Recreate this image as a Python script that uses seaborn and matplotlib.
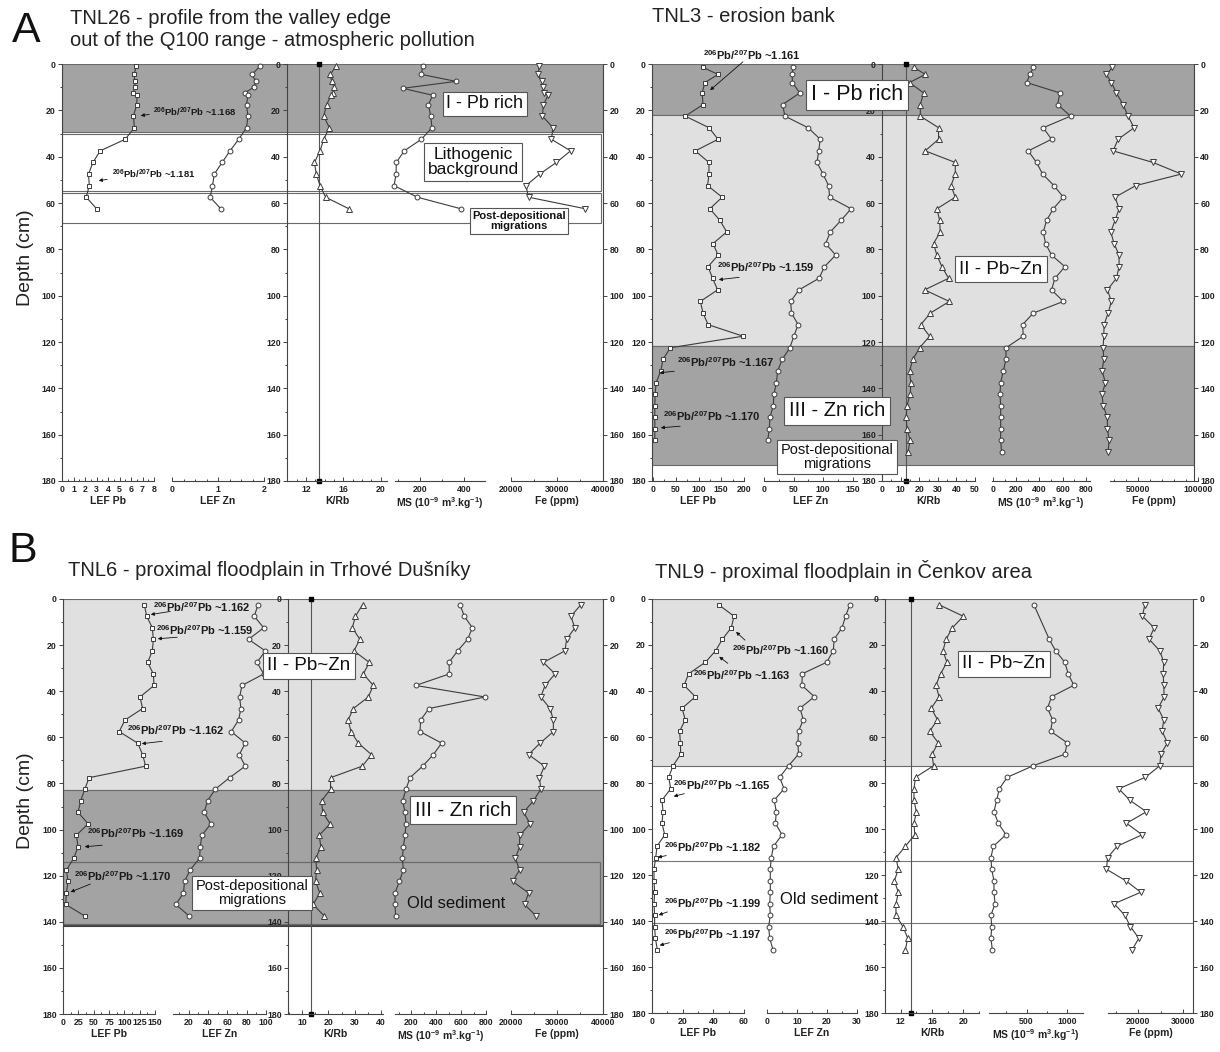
import matplotlib
matplotlib.use("Agg")
import matplotlib.pyplot as plt
from matplotlib.ticker import MultipleLocator
from matplotlib.patches import FancyArrowPatch
import seaborn as sns

# ---------------------------------------------------------------- data
# TNL26 - valley edge profile
depth_26 = [1, 4.5, 7.5, 10, 12.5, 13.5, 17.5, 22.5, 27.5, 32.5, 37.5, 42.5, 47.5, 52.5, 57.5, 62.5]
depth_26_ms = [1, 4.5, 7.5, 10.5, 13.5, 17.5, 22.5, 27.5, 32.5, 37.5, 42.5, 47.5, 52.5, 57.5, 62.5]
lef_pb_26 = [6.45, 6.27, 6.33, 6.36, 6.18, 6.53, 6.50, 6.21, 6.30, 5.49, 3.32, 2.69, 2.31, 2.37, 2.11, 3.01]
lef_zn_26 = [1.91, 1.74, 1.82, 1.78, 1.58, 1.65, 1.62, 1.65, 1.62, 1.45, 1.26, 1.09, 0.92, 0.88, 0.83, 1.06]
krb_26 = [15.2, 14.6, 14.75, 15.0, 14.9, 14.7, 14.2, 13.9, 14.5, 13.9, 13.5, 12.9, 13.1, 13.5, 14.1, 16.6]
ms_26 = [212, 206, 362, 122, 257, 238, 248, 254, 206, 129, 93, 92, 83, 188, 385]
fe_26 = [26115, 25900, 26690, 26980, 27190, 28060, 27050, 26830, 29140, 28780, 32950, 29860,
         26260, 23240, 23810, 36190]

# TNL3 - erosion bank
depth_3 = [1.5, 4.5, 8, 12.5, 17.5, 22.5, 27.5, 32.5, 37.5, 42.5, 47.5, 52.5, 57.5, 62.5, 67.5,
           72.5, 77.5, 82.5, 87.5, 92.5, 97.5, 102.5, 107.5, 112.5, 117.5, 122.5, 127.5, 132.5,
           137.5, 142.5, 147.5, 152.5, 157.5, 162.5]
depth_3_long = depth_3 + [167.5]
lef_pb_3 = [110, 143, 114, 108, 110, 71, 123, 143, 93, 123, 123, 120, 152, 125, 147, 162, 132, 143,
            121, 131, 142, 104, 110, 121, 198, 38, 22, 17, 7, 4.5, 4, 4, 4, 4]
lef_zn_3 = [49, 47.6, 48, 60.4, 31.3, 35.3, 74.4, 95, 92.3, 89.5, 99.6, 109, 110.8, 147, 130, 112,
            104, 121, 102, 93, 59, 45, 46.4, 57.6, 50.4, 43.6, 30.8, 23, 21, 16.8, 15.7, 10, 9, 6.2]
krb_3 = [17.3, 23.2, 14.8, 22.4, 20.6, 20.6, 30.4, 30.4, 23.2, 39.4, 39.4, 37.1, 39.4, 29.5, 31,
         31.3, 27.7, 29.5, 32.2, 35.8, 22.9, 36.2, 26, 20.9, 25.6, 20.2, 16.6, 14.8, 15.5, 15.2,
         13.4, 13, 13.4, 15.2, 13.9]
ms_3 = [347, 318, 289, 578, 557, 670, 433, 505, 303, 375, 427, 526, 607, 520, 462, 433, 453, 505,
        621, 534, 505, 607, 347, 254, 260, 110, 110, 87, 64, 58, 64, 64, 64, 64, 72]
fe_3 = [28610, 23610, 27780, 31940, 37500, 41670, 46670, 33330, 29170, 62500, 86110, 48060, 30830,
        34170, 30830, 27220, 30000, 34170, 34170, 31940, 24440, 27780, 25000, 21670, 21390, 20830,
        21390, 20000, 22780, 20000, 20830, 24440, 24440, 25830, 25000]

# TNL6 - Trhove Dusniky
depth_6 = [2.5, 7.5, 12.5, 17.5, 22.5, 27.5, 32.5, 37.5, 42.5, 47.5, 52.5, 57.5, 62.5, 67.5, 72.5,
           77.5, 82.5, 87.5, 92.5, 97.5, 102.5, 107.5, 112.5, 117.5, 122.5, 127.5, 132.5, 137.5]
lef_pb_6 = [132.6, 136.4, 145.7, 147.3, 145.7, 138, 147.3, 148.4, 125.5, 129.8, 101, 91.6, 121.7,
            129.8, 134.8, 42.6, 35.5, 28.9, 24.5, 40.9, 21.8, 24.5, 17.5, 5.5, 8.2, 5.5, 4.4, 35.5]
lef_zn_6 = [91.7, 87.9, 97.6, 82, 99.3, 90.7, 97.6, 75.2, 72.8, 74.1, 71.7, 64.1, 78.6, 72.4, 78.6,
            62.4, 47.6, 39.7, 36.2, 43.1, 33.8, 32.1, 31.4, 21.7, 15.9, 14.8, 6.9, 20.7]
krb_6 = [33.0, 30.3, 29.1, 32.0, 29.7, 35.6, 33.3, 37.1, 35.2, 29.5, 27.5, 28.6, 31.4, 36.4, 32.9,
         20.8, 20.8, 17.4, 17.8, 20.6, 16.5, 17.1, 15.2, 15.5, 15.1, 16.7, 14.2, 18.4]
ms_6 = [592, 627, 691, 653, 573, 504, 507, 237, 792, 344, 277, 272, 445, 379, 293, 192, 160, 133,
        152, 160, 152, 139, 131, 139, 107, 72, 72, 77]
fe_6 = [35180, 33020, 33880, 32090, 31730, 27050, 29570, 27410, 26470, 28490, 29210, 29210, 26330,
        23810, 27270, 26190, 26470, 24890, 22730, 24170, 21870, 21870, 20940, 21870, 20360, 23810,
        22950, 25470]

# TNL9 - Cenkov
depth_9 = [2.5, 7.5, 12.5, 17.5, 22.5, 27.5, 32.5, 37.5, 42.5, 47.5, 52.5, 57.5, 62.5, 67.5, 72.5,
           77.5, 82.5, 87.5, 92.5, 97.5, 102.5, 107.5, 112.5, 117.5, 122.5, 127.5, 132.5, 137.5,
           142.5, 147.5, 152.5]
depth_9_ms = [2.5, 17.5, 22.5, 27.5, 32.5, 37.5, 42.5, 47.5, 52.5, 57.5, 62.5, 67.5, 72.5, 77.5,
              82.5, 87.5, 92.5, 97.5, 102.5, 107.5, 112.5, 117.5, 122.5, 127.5, 132.5, 137.5,
              142.5, 147.5, 152.5]
lef_pb_9 = [43.5, 53.5, 51.7, 45.9, 41.5, 34.8, 23.9, 20.9, 28.3, 19.6, 21.7, 18, 18.5, 18.7, 13.7,
            10.9, 12.2, 6.5, 7.2, 6.5, 8.3, 3.3, 2.4, 1.3, 1.3, 1.7, 1.3, 1.7, 1.7, 2.2, 3.5]
lef_zn_9 = [27.6, 26.2, 25, 22.4, 22.1, 19.9, 11.8, 11.6, 15.8, 11, 12.1, 10.5, 10.3, 10.5, 7.2, 4.2,
            5.7, 2.4, 3.1, 2.8, 5, 2.2, 1.4, 1.1, 1.1, 1.1, 0.9, 1.1, 0.55, 0.9, 2]
krb_9 = [16.9, 20, 18.6, 17.8, 17.4, 17.9, 17.1, 16.5, 16.9, 15.9, 16.7, 15.7, 16.8, 16, 16.2, 13.9,
         13.7, 13.7, 14, 13.7, 13.8, 12.6, 11.4, 11.7, 11.2, 11.7, 11.4, 11.4, 12.3, 12.9, 12.6]
ms_9 = [590, 779, 857, 971, 1012, 1082, 807, 758, 820, 795, 1000, 971, 582, 262, 164, 131, 98, 152,
        246, 90, 61, 70, 98, 98, 111, 61, 70, 61, 78]
fe_9 = [21480, 20960, 23560, 22440, 24810, 25700, 25560, 25700, 25780, 24440, 25700, 25330, 26520,
        25040, 24810, 21630, 15700, 18150, 21850, 17410, 20890, 15330, 13190, 12960, 17260, 20590,
        14670, 17040, 18300, 20150, 18670]

# K/Rb reference value drawn as a vertical line in each profile
krb_ref = {"TNL26": 13.4, "TNL3": 13.0, "TNL6": 13.3, "TNL9": 13.3}

# ---------------------------------------------------------------- style
W, H = 1220, 1052
sns.set_style("ticks")
plt.rcParams["font.family"] = ["Liberation Sans", "DejaVu Sans"]
plt.rcParams["mathtext.fontset"] = "custom"
plt.rcParams["mathtext.rm"] = "Liberation Sans"
plt.rcParams["mathtext.bf"] = "Liberation Sans:bold"
plt.rcParams["mathtext.default"] = "regular"

LINE = "#3c3c3c"
AXC = "#444444"
DARK = "#a3a3a3"
LIGHT = "#e0e0e0"
EDGE = "#6a6a6a"
TICK_FS = 6.3

fig = plt.figure(figsize=(W / 100, H / 100), dpi=100)
fig.patch.set_facecolor("white")


def fbox(x0, x1, y0, y1):
    return [x0 / W, 1 - y1 / H, (x1 - x0) / W, (y1 - y0) / H]


def fp(x, y):
    return (x / W, 1 - y / H)


def depth_ticks(ax):
    ax.yaxis.set_major_locator(MultipleLocator(20))
    ax.yaxis.set_minor_locator(MultipleLocator(10))
    ax.tick_params(axis="y", which="both", direction="out", width=0.7, color=AXC,
                   labelsize=TICK_FS, pad=1.5, labelcolor="#222222")
    ax.tick_params(axis="y", which="major", length=3)
    ax.tick_params(axis="y", which="minor", length=1.6)
    plt.setp(ax.get_yticklabels(), fontweight="bold")


def make_frame(x0, x1, y0, y1):
    ax = fig.add_axes(fbox(x0, x1, y0, y1))
    ax.set_xlim(0, 1)
    ax.set_ylim(180, 0)
    ax.patch.set_alpha(0)
    ax.spines["top"].set_visible(False)
    ax.spines["bottom"].set_visible(False)
    for s in ("left", "right"):
        ax.spines[s].set_color(AXC)
        ax.spines[s].set_linewidth(0.8)
    ax.set_xticks([])
    ax.tick_params(axis="y", left=True, right=True, labelleft=True, labelright=True)
    depth_ticks(ax)
    return ax


def make_sub(x0, x1, y0, y1, vals, depth, lim, major, minor, label, marker, ms,
             depth_axis=False, ref=None):
    ax = fig.add_axes(fbox(x0, x1, y0, y1))
    ax.patch.set_alpha(0)
    sns.lineplot(x=vals, y=depth, orient="y", sort=False, estimator=None, errorbar=None,
                 ax=ax, color=LINE, lw=0.8, marker=marker, markersize=ms,
                 markerfacecolor="white", markeredgecolor=LINE, markeredgewidth=0.7,
                 clip_on=False, zorder=3)
    if ref is not None:
        ax.plot([ref, ref], [0, 180], color="#555555", lw=0.8, marker="s", markersize=2.6,
                markerfacecolor="black", markeredgecolor="black", clip_on=False, zorder=2)
    ax.set_xlim(*lim)
    ax.set_ylim(180, 0)
    ax.spines["top"].set_visible(False)
    ax.spines["right"].set_visible(False)
    ax.spines["bottom"].set_color(AXC)
    ax.spines["bottom"].set_linewidth(0.8)
    ax.xaxis.set_major_locator(MultipleLocator(major))
    ax.xaxis.set_minor_locator(MultipleLocator(minor))
    ax.tick_params(axis="x", which="both", direction="in", width=0.7, color=AXC,
                   labelsize=TICK_FS, pad=3, labelcolor="#222222")
    ax.tick_params(axis="x", which="major", length=3)
    ax.tick_params(axis="x", which="minor", length=1.6)
    plt.setp(ax.get_xticklabels(), fontweight="bold")
    ax.set_xlabel(label, fontsize=7.5, fontweight="bold", labelpad=1.0, color="#222222")
    ax.set_ylabel("")
    if depth_axis:
        ax.spines["left"].set_color(AXC)
        ax.spines["left"].set_linewidth(0.8)
        depth_ticks(ax)
    else:
        ax.spines["left"].set_visible(False)
        ax.set_yticks([])
    return ax


MS_LABEL = r"MS (10$^{-9}$ m$^{3}$.kg$^{-1}$)"


def profile(y0, y1, series, ref):
    for (name, vals, depth, pxr, lim, major, minor, label, marker, ms) in series:
        make_sub(pxr[0], pxr[1], y0, y1, vals, depth, lim, major, minor, label, marker, ms,
                 depth_axis=(name == "krb"), ref=(ref if name == "krb" else None))


def ratio(x, y, value, size=8):
    fig.text(x / W, 1 - y / H, r"$^{206}$Pb/$^{207}$Pb ~" + value, ha="left", va="center",
             fontsize=size, fontweight="bold", color="#1a1a1a", zorder=6)


def arrow(x0, y0, x1, y1):
    fig.add_artist(FancyArrowPatch(fp(x0, y0), fp(x1, y1), transform=fig.transFigure,
                                   arrowstyle="-|>", mutation_scale=5, lw=0.6, color="#111111",
                                   zorder=6))


def label_box(x, y, s, size, weight="normal", boxed=True):
    kw = dict(ha="center", va="center", fontsize=size, fontweight=weight, color="#111111",
              multialignment="center", linespacing=1.05, zorder=7)
    if boxed:
        kw["bbox"] = dict(boxstyle="square,pad=0.22", fc="white", ec="#555555", lw=0.8)
    fig.text(x / W, 1 - y / H, s, **kw)


# ---------------------------------------------------------------- A: TNL26
fa = make_frame(62, 603, 64, 481)
fa.axhspan(0, 29.3, fc=DARK, ec=EDGE, lw=0.8, zorder=0)
fa.axhspan(30.3, 54.8, xmax=0.996, fc="white", ec=EDGE, lw=0.8, zorder=0)
fa.axhspan(55.6, 68.5, xmax=0.996, fc="white", ec=EDGE, lw=0.8, zorder=0)
profile(64, 481, [
    ("pb", lef_pb_26, depth_26, (62, 154), (0, 8), 1, 0.5, "LEF Pb", "s", 3.5),
    ("zn", lef_zn_26, depth_26, (172, 264), (0, 2), 1, 0.25, "LEF Zn", "o", 3.5),
    ("krb", krb_26, depth_26, (287, 387), (9.96, 20.68), 4, 1, "K/Rb", "^", 4.1),
    ("ms", ms_26, depth_26_ms, (395, 485), (87.2, 493), 200, 100, MS_LABEL, "o", 3.5),
    ("fe", fe_26, depth_26, (511, 603), (20000, 40000), 10000, 5000, "Fe (ppm)", "v", 4.1),
], krb_ref["TNL26"])

# ---------------------------------------------------------------- A: TNL3
fb = make_frame(652, 1194, 64, 481)
fb.axhspan(0, 22, fc=DARK, ec=EDGE, lw=0.8, zorder=0)
fb.axhspan(22, 121.6, fc=LIGHT, ec=EDGE, lw=0.8, zorder=0)
fb.axhspan(121.6, 173.1, fc=DARK, ec=EDGE, lw=0.8, zorder=0)
profile(64, 481, [
    ("pb", lef_pb_3, depth_3, (653, 744), (0, 200), 50, 25, "LEF Pb", "s", 3.5),
    ("zn", lef_zn_3, depth_3, (764, 857), (0, 157), 50, 25, "LEF Zn", "o", 3.5),
    ("krb", krb_3, depth_3_long, (882, 975), (0, 50), 10, 5, "K/Rb", "^", 4.1),
    ("ms", ms_3, depth_3_long, (992, 1090), (-11, 838), 200, 100, MS_LABEL, "o", 3.5),
    ("fe", fe_3, depth_3_long, (1110, 1198), (26600, 100000), 50000, 10000, "Fe (ppm)", "v", 4.1),
], krb_ref["TNL3"])

# ---------------------------------------------------------------- B: TNL6
fc = make_frame(63, 603, 599, 1014)
fc.axhspan(0, 83, fc=LIGHT, ec=EDGE, lw=0.8, zorder=0)
fc.axhspan(83, 141.7, fc=DARK, ec=EDGE, lw=0.8, zorder=0)
fc.axhspan(114.2, 141.0, xmax=0.994, fc="none", ec=EDGE, lw=0.9, zorder=0)
fc.axhline(141.7, color="#333333", lw=1.1, zorder=0)
profile(599, 1014, [
    ("pb", lef_pb_6, depth_6, (63, 155), (0, 150), 25, 12.5, "LEF Pb", "s", 3.5),
    ("zn", lef_zn_6, depth_6, (173, 266), (4, 100), 20, 10, "LEF Zn", "o", 3.5),
    ("krb", krb_6, depth_6, (288, 383), (4.6, 40.8), 10, 5, "K/Rb", "^", 4.1),
    ("ms", ms_6, depth_6, (395, 486), (72, 800), 200, 100, MS_LABEL, "o", 3.5),
    ("fe", fe_6, depth_6, (511, 603), (20000, 40000), 10000, 5000, "Fe (ppm)", "v", 4.1),
], krb_ref["TNL6"])

# ---------------------------------------------------------------- B: TNL9
fd = make_frame(652, 1193, 599, 1013)
fd.axhspan(0, 72.8, fc=LIGHT, ec=EDGE, lw=0.8, zorder=0)
fd.axhline(113.8, color="#777777", lw=0.8, zorder=0)
fd.axhline(140.9, color="#777777", lw=0.8, zorder=0)
profile(599, 1013, [
    ("pb", lef_pb_9, depth_9, (652, 744), (0, 60), 20, 10, "LEF Pb", "s", 3.5),
    ("zn", lef_zn_9, depth_9, (767, 857), (0, 30), 10, 5, "LEF Zn", "o", 3.5),
    ("krb", krb_9, depth_9, (885, 979), (10, 22), 4, 2, "K/Rb", "^", 4.1),
    ("ms", ms_9, depth_9_ms, (989, 1083), (37, 1195), 500, 250, MS_LABEL, "o", 3.5),
    ("fe", fe_9, depth_9, (1108, 1193), (13300, 32200), 10000, 5000, "Fe (ppm)", "v", 4.1),
], krb_ref["TNL9"])

# ---------------------------------------------------------------- headings
fig.text(12 / W, 1 - 31 / H, "A", fontsize=31, ha="left", va="center", color="#111111")
fig.text(70 / W, 1 - 18 / H, "TNL26 - profile from the valley edge", fontsize=14.5,
         ha="left", va="center", color="#222222")
fig.text(70 / W, 1 - 41 / H, "out of the Q100 range - atmospheric pollution", fontsize=14.5,
         ha="left", va="center", color="#222222")
fig.text(652 / W, 1 - 17 / H, "TNL3 - erosion bank", fontsize=14.5, ha="left", va="center",
         color="#222222")
fig.text(8 / W, 1 - 551 / H, "B", fontsize=31, ha="left", va="center", color="#111111")
fig.text(68 / W, 1 - 571 / H, "TNL6 - proximal floodplain in Trhové Dušníky", fontsize=14.5,
         ha="left", va="center", color="#222222")
fig.text(655 / W, 1 - 571 / H, "TNL9 - proximal floodplain in Čenkov area", fontsize=14.5,
         ha="left", va="center", color="#222222")
for yc in (258, 801):
    fig.text(26 / W, 1 - yc / H, "Depth (cm)", rotation=90, fontsize=14, ha="center",
             va="center", color="#222222")

# ---------------------------------------------------------------- zone labels
label_box(485, 104, "I - Pb rich", 13)
label_box(473, 162, "Lithogenic\nbackground", 12.5)
label_box(519, 221, "Post-depositional\nmigrations", 8, weight="bold")

label_box(857, 95, "I - Pb rich", 15.5)
label_box(1001, 269, "II - Pb~Zn", 13.5)
label_box(837, 411, "III - Zn rich", 14.5)
label_box(837, 457, "Post-depositional\nmigrations", 10.5)

label_box(309, 666, "II - Pb~Zn", 13.5)
label_box(463, 810, "III - Zn rich", 14.5)
label_box(252, 893, "Post-depositional\nmigrations", 10.5)
label_box(456, 903, "Old sediment", 12, boxed=False)

label_box(1004, 664, "II - Pb~Zn", 13.5)
label_box(829, 900, "Old sediment", 12, boxed=False)

# ---------------------------------------------------------------- isotope ratio notes
ratio(153, 112, "1.168", 6.8); arrow(152, 114, 138, 116)
ratio(112, 174, "1.181", 6.8); arrow(110, 179, 96, 181)

ratio(703, 55, "1.161"); arrow(745, 60, 708, 92)
ratio(717, 267, "1.159"); arrow(742, 277, 716, 280)
ratio(677, 362, "1.167"); arrow(677, 371, 657, 373)
ratio(663, 416, "1.170"); arrow(683, 426, 658, 428)

ratio(153, 607, "1.162"); arrow(173, 611, 148, 615)
ratio(156, 630, "1.159"); arrow(180, 637, 155, 639)
ratio(127, 730, "1.162"); arrow(165, 741, 139, 744)
ratio(87, 833, "1.169"); arrow(105, 845, 82, 847)
ratio(74, 876, "1.170"); arrow(93, 883, 68, 893)

ratio(732, 650, "1.160"); arrow(747, 642, 734, 630)
ratio(693, 675, "1.163"); arrow(730, 665, 717, 655)
ratio(673, 785, "1.165"); arrow(687, 793, 671, 797)
ratio(664, 847, "1.182"); arrow(669, 855, 655, 858)
ratio(664, 903, "1.199"); arrow(670, 911, 656, 916)
ratio(664, 934, "1.197"); arrow(672, 942, 657, 946)

fig.savefig("out.png", dpi=100, facecolor="white")
